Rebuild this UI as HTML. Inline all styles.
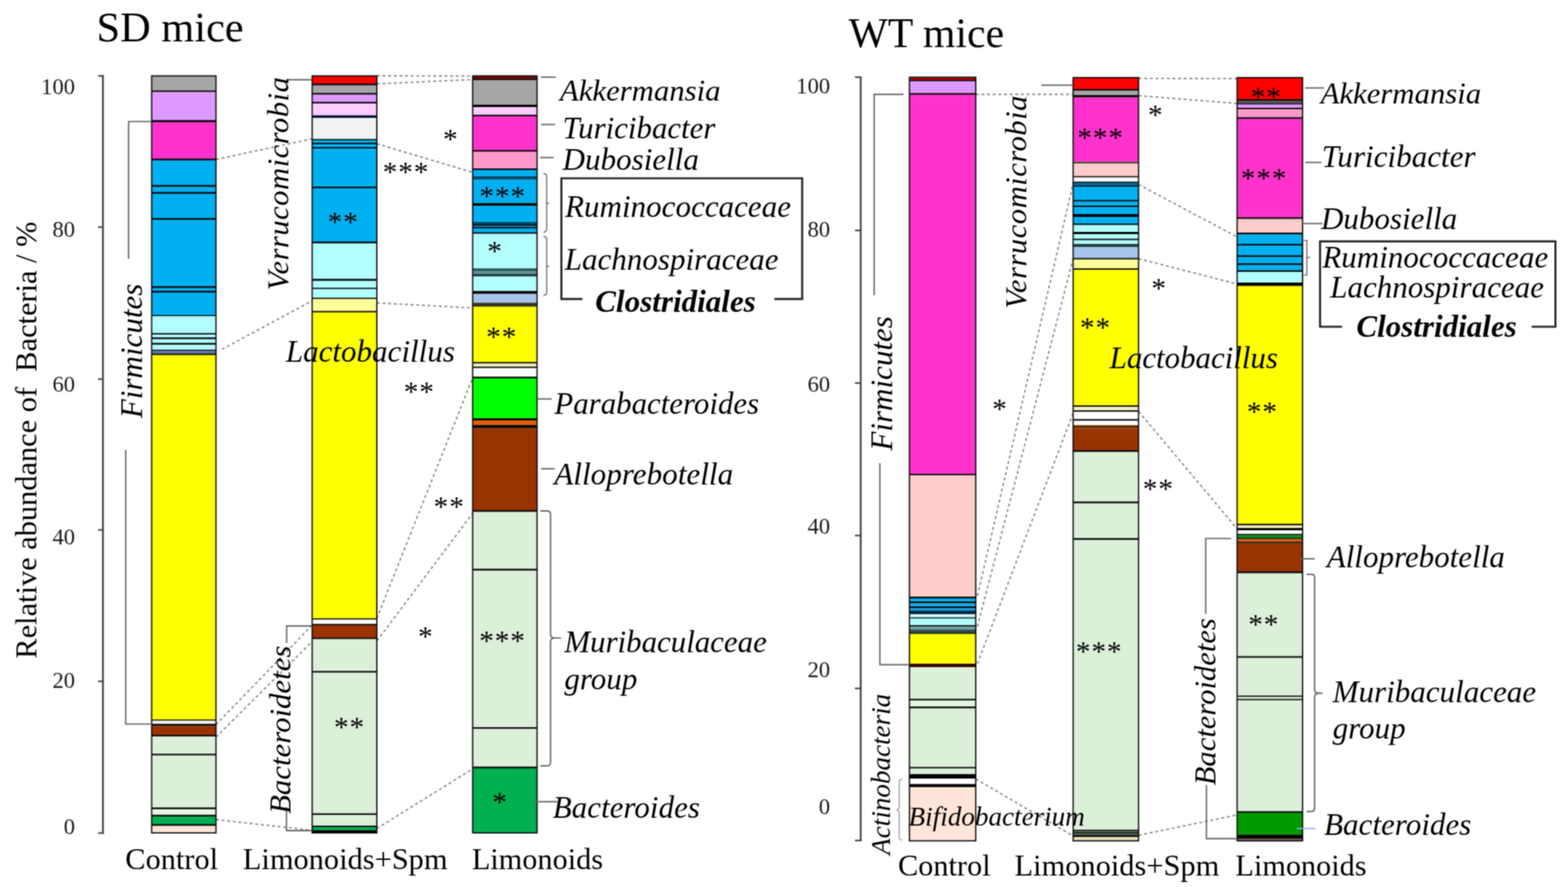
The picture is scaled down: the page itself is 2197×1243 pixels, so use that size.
<!DOCTYPE html>
<html lang="en">
<head>
<meta charset="utf-8">
<title>Relative abundance of Bacteria - SD mice and WT mice</title>
<style>
html,body{margin:0;padding:0;background:#fff;}
body{width:2197px;height:1243px;overflow:hidden;}
svg{display:block;font-family:"Liberation Serif","Times New Roman",serif;}
#fig{width:2197px;height:1243px;}
</style>
</head>
<body>
<div id="fig">
<svg width="2197" height="1243" viewBox="0 0 2197 1243">
<defs><filter id="soft" x="0" y="0" width="2197" height="1243" filterUnits="userSpaceOnUse" color-interpolation-filters="sRGB"><feConvolveMatrix order="3" kernelMatrix="1 2 1 2 4 2 1 2 1" divisor="16" edgeMode="duplicate" preserveAlpha="true"/></filter></defs>
<g filter="url(#soft)">
<rect x="0" y="0" width="2197" height="1243" fill="#ffffff"/>
<text x="135.2" y="58.0" text-anchor="start" style="font-size:59.4px;" fill="#000">SD mice</text>
<text x="1189.0" y="66.3" text-anchor="start" style="font-size:58.4px;" fill="#000">WT mice</text>
<text x="51.4" y="923.0" text-anchor="start" style="font-size:42.6px;" fill="#000" transform="rotate(-90 51.4 923.0)" xml:space="preserve">Relative abundance of  Bacteria / %</text>
<line x1="144.2" y1="105.5" x2="144.2" y2="1168.3" stroke="#404040" stroke-width="2.5"/>
<line x1="137.5" y1="106.4" x2="145.3" y2="106.4" stroke="#404040" stroke-width="2.2"/>
<line x1="137.5" y1="318.3" x2="145.3" y2="318.3" stroke="#404040" stroke-width="2.2"/>
<line x1="137.5" y1="531.3" x2="145.3" y2="531.3" stroke="#404040" stroke-width="2.2"/>
<line x1="137.5" y1="742.6" x2="145.3" y2="742.6" stroke="#404040" stroke-width="2.2"/>
<line x1="137.5" y1="954.7" x2="145.3" y2="954.7" stroke="#404040" stroke-width="2.2"/>
<line x1="137.5" y1="1167.4" x2="145.3" y2="1167.4" stroke="#404040" stroke-width="2.2"/>
<text x="105.2" y="131.5" text-anchor="end" style="font-size:31.8px;" fill="#1a1a1a">100</text>
<text x="105.2" y="331.7" text-anchor="end" style="font-size:31.8px;" fill="#1a1a1a">80</text>
<text x="105.2" y="549.1" text-anchor="end" style="font-size:31.8px;" fill="#1a1a1a">60</text>
<text x="105.2" y="763.2" text-anchor="end" style="font-size:31.8px;" fill="#1a1a1a">40</text>
<text x="105.2" y="964.0" text-anchor="end" style="font-size:31.8px;" fill="#1a1a1a">20</text>
<text x="105.2" y="1169.4" text-anchor="end" style="font-size:31.8px;" fill="#1a1a1a">0</text>
<line x1="1206.0" y1="107.2" x2="1206.0" y2="1179.0" stroke="#404040" stroke-width="2.5"/>
<line x1="1198.0" y1="108.1" x2="1207.1" y2="108.1" stroke="#404040" stroke-width="2.2"/>
<line x1="1198.0" y1="322.9" x2="1207.1" y2="322.9" stroke="#404040" stroke-width="2.2"/>
<line x1="1198.0" y1="536.9" x2="1207.1" y2="536.9" stroke="#404040" stroke-width="2.2"/>
<line x1="1198.0" y1="750.5" x2="1207.1" y2="750.5" stroke="#404040" stroke-width="2.2"/>
<line x1="1198.0" y1="964.7" x2="1207.1" y2="964.7" stroke="#404040" stroke-width="2.2"/>
<line x1="1198.0" y1="1177.8" x2="1207.1" y2="1177.8" stroke="#404040" stroke-width="2.2"/>
<text x="1163.2" y="131.2" text-anchor="end" style="font-size:31.8px;" fill="#1a1a1a">100</text>
<text x="1163.2" y="331.5" text-anchor="end" style="font-size:31.8px;" fill="#1a1a1a">80</text>
<text x="1163.2" y="549.0" text-anchor="end" style="font-size:31.8px;" fill="#1a1a1a">60</text>
<text x="1163.2" y="748.2" text-anchor="end" style="font-size:31.8px;" fill="#1a1a1a">40</text>
<text x="1163.2" y="948.5" text-anchor="end" style="font-size:31.8px;" fill="#1a1a1a">20</text>
<text x="1163.2" y="1140.5" text-anchor="end" style="font-size:31.8px;" fill="#1a1a1a">0</text>
<line x1="302.6" y1="223.5" x2="437.4" y2="194.5" stroke="#858585" stroke-width="1.9" stroke-dasharray="4.2 3.7"/>
<line x1="311.0" y1="489.5" x2="437.4" y2="421.5" stroke="#858585" stroke-width="1.9" stroke-dasharray="4.2 3.7"/>
<line x1="302.6" y1="1015.5" x2="437.4" y2="876.0" stroke="#858585" stroke-width="1.9" stroke-dasharray="4.2 3.7"/>
<line x1="302.6" y1="1033.0" x2="437.4" y2="899.0" stroke="#858585" stroke-width="1.9" stroke-dasharray="4.2 3.7"/>
<line x1="302.6" y1="1148.5" x2="437.4" y2="1163.5" stroke="#858585" stroke-width="1.9" stroke-dasharray="4.2 3.7"/>
<line x1="528.0" y1="106.2" x2="662.3" y2="106.6" stroke="#858585" stroke-width="1.9" stroke-dasharray="4.2 3.7"/>
<line x1="528.0" y1="117.5" x2="662.3" y2="111.5" stroke="#858585" stroke-width="1.9" stroke-dasharray="4.2 3.7"/>
<line x1="528.0" y1="201.5" x2="662.3" y2="241.5" stroke="#858585" stroke-width="1.9" stroke-dasharray="4.2 3.7"/>
<line x1="528.0" y1="424.5" x2="662.3" y2="431.5" stroke="#858585" stroke-width="1.9" stroke-dasharray="4.2 3.7"/>
<line x1="528.0" y1="866.5" x2="662.3" y2="529.5" stroke="#858585" stroke-width="1.9" stroke-dasharray="4.2 3.7"/>
<line x1="528.0" y1="898.3" x2="662.3" y2="719.3" stroke="#858585" stroke-width="1.9" stroke-dasharray="4.2 3.7"/>
<line x1="528.0" y1="1161.0" x2="662.3" y2="1077.5" stroke="#858585" stroke-width="1.9" stroke-dasharray="4.2 3.7"/>
<line x1="1367.2" y1="132.2" x2="1503.6" y2="132.2" stroke="#858585" stroke-width="1.9" stroke-dasharray="4.2 3.7"/>
<line x1="1595.3" y1="109.8" x2="1733.4" y2="110.2" stroke="#858585" stroke-width="1.9" stroke-dasharray="4.2 3.7"/>
<line x1="1595.3" y1="134.0" x2="1733.4" y2="145.0" stroke="#858585" stroke-width="1.9" stroke-dasharray="4.2 3.7"/>
<line x1="1595.3" y1="258.5" x2="1733.4" y2="332.0" stroke="#858585" stroke-width="1.9" stroke-dasharray="4.2 3.7"/>
<line x1="1595.3" y1="362.5" x2="1733.4" y2="398.0" stroke="#858585" stroke-width="1.9" stroke-dasharray="4.2 3.7"/>
<line x1="1595.3" y1="576.5" x2="1733.4" y2="741.0" stroke="#858585" stroke-width="1.9" stroke-dasharray="4.2 3.7"/>
<line x1="1595.3" y1="1170.5" x2="1733.4" y2="1142.0" stroke="#858585" stroke-width="1.9" stroke-dasharray="4.2 3.7"/>
<line x1="1367.2" y1="1091.5" x2="1503.6" y2="1171.5" stroke="#858585" stroke-width="1.9" stroke-dasharray="4.2 3.7"/>
<line x1="1369.5" y1="835.0" x2="1505.9" y2="247.0" stroke="#858585" stroke-width="1.9" stroke-dasharray="4.2 3.7"/>
<line x1="1369.5" y1="878.0" x2="1505.9" y2="354.0" stroke="#858585" stroke-width="1.9" stroke-dasharray="4.2 3.7"/>
<line x1="1369.5" y1="930.0" x2="1505.9" y2="573.0" stroke="#858585" stroke-width="1.9" stroke-dasharray="4.2 3.7"/>
<rect x="212.5" y="106.4" width="90.1" height="21.4" fill="#a6a6a6"/>
<rect x="212.5" y="127.8" width="90.1" height="41.9" fill="#dd99ff"/>
<rect x="212.5" y="169.7" width="90.1" height="53.8" fill="#ff33cc"/>
<rect x="212.5" y="223.5" width="90.1" height="37.0" fill="#00b0f0"/>
<rect x="212.5" y="260.5" width="90.1" height="9.7" fill="#00b0f0"/>
<rect x="212.5" y="270.2" width="90.1" height="36.6" fill="#00b0f0"/>
<rect x="212.5" y="306.8" width="90.1" height="95.4" fill="#00b0f0"/>
<rect x="212.5" y="402.2" width="90.1" height="6.6" fill="#00b0f0"/>
<rect x="212.5" y="408.8" width="90.1" height="33.5" fill="#00b0f0"/>
<rect x="212.5" y="442.3" width="90.1" height="25.5" fill="#b3ffff"/>
<rect x="212.5" y="467.8" width="90.1" height="6.2" fill="#b3ffff"/>
<rect x="212.5" y="474.0" width="90.1" height="7.8" fill="#b3ffff"/>
<rect x="212.5" y="481.8" width="90.1" height="8.8" fill="#b3ffff"/>
<rect x="212.5" y="490.6" width="90.1" height="5.9" fill="#6677aa"/>
<rect x="212.5" y="496.5" width="90.1" height="512.5" fill="#ffff00"/>
<rect x="212.5" y="1009.0" width="90.1" height="5.4" fill="#f2f2f2"/>
<rect x="212.5" y="1014.4" width="90.1" height="3.0" fill="#000000"/>
<rect x="212.5" y="1017.4" width="90.1" height="13.4" fill="#993300"/>
<rect x="212.5" y="1030.8" width="90.1" height="26.5" fill="#dbefd9"/>
<rect x="212.5" y="1057.3" width="90.1" height="75.5" fill="#dbefd9"/>
<rect x="212.5" y="1132.8" width="90.1" height="10.2" fill="#e4f5e2"/>
<rect x="212.5" y="1143.0" width="90.1" height="13.0" fill="#00b050"/>
<rect x="212.5" y="1156.0" width="90.1" height="11.2" fill="#ffe5d9"/>
<line x1="212.5" y1="127.8" x2="302.6" y2="127.8" stroke="#0d0d0d" stroke-width="1.92"/>
<line x1="212.5" y1="169.7" x2="302.6" y2="169.7" stroke="#0d0d0d" stroke-width="3.12"/>
<line x1="212.5" y1="223.5" x2="302.6" y2="223.5" stroke="#0d0d0d" stroke-width="2.4"/>
<line x1="212.5" y1="260.5" x2="302.6" y2="260.5" stroke="#0d0d0d" stroke-width="2.4"/>
<line x1="212.5" y1="270.2" x2="302.6" y2="270.2" stroke="#0d0d0d" stroke-width="2.4"/>
<line x1="212.5" y1="306.8" x2="302.6" y2="306.8" stroke="#0d0d0d" stroke-width="2.4"/>
<line x1="212.5" y1="402.2" x2="302.6" y2="402.2" stroke="#0d0d0d" stroke-width="2.64"/>
<line x1="212.5" y1="408.8" x2="302.6" y2="408.8" stroke="#0d0d0d" stroke-width="2.64"/>
<line x1="212.5" y1="442.3" x2="302.6" y2="442.3" stroke="#0d0d0d" stroke-width="1.44"/>
<line x1="212.5" y1="467.8" x2="302.6" y2="467.8" stroke="#0d0d0d" stroke-width="1.92"/>
<line x1="212.5" y1="474.0" x2="302.6" y2="474.0" stroke="#0d0d0d" stroke-width="2.4"/>
<line x1="212.5" y1="481.8" x2="302.6" y2="481.8" stroke="#0d0d0d" stroke-width="2.4"/>
<line x1="212.5" y1="490.6" x2="302.6" y2="490.6" stroke="#0d0d0d" stroke-width="1.44"/>
<line x1="212.5" y1="496.5" x2="302.6" y2="496.5" stroke="#0d0d0d" stroke-width="1.92"/>
<line x1="212.5" y1="1009.0" x2="302.6" y2="1009.0" stroke="#0d0d0d" stroke-width="1.68"/>
<line x1="212.5" y1="1030.8" x2="302.6" y2="1030.8" stroke="#0d0d0d" stroke-width="2.16"/>
<line x1="212.5" y1="1057.3" x2="302.6" y2="1057.3" stroke="#0d0d0d" stroke-width="2.16"/>
<line x1="212.5" y1="1132.8" x2="302.6" y2="1132.8" stroke="#0d0d0d" stroke-width="2.4"/>
<line x1="212.5" y1="1143.0" x2="302.6" y2="1143.0" stroke="#0d0d0d" stroke-width="2.64"/>
<line x1="212.5" y1="1156.0" x2="302.6" y2="1156.0" stroke="#0d0d0d" stroke-width="2.64"/>
<rect x="212.5" y="106.4" width="90.1" height="1060.8" fill="none" stroke="#0d0d0d" stroke-width="1.8"/>
<rect x="437.4" y="106.4" width="90.6" height="11.9" fill="#ff0000"/>
<rect x="437.4" y="118.3" width="90.6" height="13.0" fill="#a6a6a6"/>
<rect x="437.4" y="131.3" width="90.6" height="12.5" fill="#dd99ff"/>
<rect x="437.4" y="143.8" width="90.6" height="17.8" fill="#ffccff"/>
<rect x="437.4" y="161.6" width="90.6" height="3.8" fill="#001133"/>
<rect x="437.4" y="165.4" width="90.6" height="30.3" fill="#f2f2f2"/>
<rect x="437.4" y="195.7" width="90.6" height="5.3" fill="#00b0f0"/>
<rect x="437.4" y="201.0" width="90.6" height="6.0" fill="#00b0f0"/>
<rect x="437.4" y="207.0" width="90.6" height="55.6" fill="#00b0f0"/>
<rect x="437.4" y="262.6" width="90.6" height="77.2" fill="#00b0f0"/>
<rect x="437.4" y="339.8" width="90.6" height="52.3" fill="#b3ffff"/>
<rect x="437.4" y="392.1" width="90.6" height="12.0" fill="#b3ffff"/>
<rect x="437.4" y="404.1" width="90.6" height="14.0" fill="#b3ffff"/>
<rect x="437.4" y="418.1" width="90.6" height="18.6" fill="#ffff99"/>
<rect x="437.4" y="436.7" width="90.6" height="430.7" fill="#ffff00"/>
<rect x="437.4" y="867.4" width="90.6" height="7.9" fill="#ffffff"/>
<rect x="437.4" y="875.3" width="90.6" height="19.2" fill="#993300"/>
<rect x="437.4" y="894.5" width="90.6" height="46.9" fill="#dbefd9"/>
<rect x="437.4" y="941.4" width="90.6" height="199.5" fill="#dbefd9"/>
<rect x="437.4" y="1140.9" width="90.6" height="17.1" fill="#dbefd9"/>
<rect x="437.4" y="1158.0" width="90.6" height="5.3" fill="#00b050"/>
<rect x="437.4" y="1163.3" width="90.6" height="3.9" fill="#000000"/>
<line x1="437.4" y1="118.3" x2="528.0" y2="118.3" stroke="#0d0d0d" stroke-width="2.64"/>
<line x1="437.4" y1="131.3" x2="528.0" y2="131.3" stroke="#0d0d0d" stroke-width="2.16"/>
<line x1="437.4" y1="143.8" x2="528.0" y2="143.8" stroke="#0d0d0d" stroke-width="2.16"/>
<line x1="437.4" y1="195.7" x2="528.0" y2="195.7" stroke="#0d0d0d" stroke-width="1.68"/>
<line x1="437.4" y1="201.0" x2="528.0" y2="201.0" stroke="#0d0d0d" stroke-width="1.92"/>
<line x1="437.4" y1="207.0" x2="528.0" y2="207.0" stroke="#0d0d0d" stroke-width="2.16"/>
<line x1="437.4" y1="262.6" x2="528.0" y2="262.6" stroke="#0d0d0d" stroke-width="2.4"/>
<line x1="437.4" y1="339.8" x2="528.0" y2="339.8" stroke="#0d0d0d" stroke-width="2.4"/>
<line x1="437.4" y1="392.1" x2="528.0" y2="392.1" stroke="#0d0d0d" stroke-width="2.88"/>
<line x1="437.4" y1="404.1" x2="528.0" y2="404.1" stroke="#0d0d0d" stroke-width="1.92"/>
<line x1="437.4" y1="418.1" x2="528.0" y2="418.1" stroke="#0d0d0d" stroke-width="1.68"/>
<line x1="437.4" y1="436.7" x2="528.0" y2="436.7" stroke="#0d0d0d" stroke-width="1.92"/>
<line x1="437.4" y1="867.4" x2="528.0" y2="867.4" stroke="#0d0d0d" stroke-width="1.92"/>
<line x1="437.4" y1="875.3" x2="528.0" y2="875.3" stroke="#0d0d0d" stroke-width="1.92"/>
<line x1="437.4" y1="894.5" x2="528.0" y2="894.5" stroke="#0d0d0d" stroke-width="2.16"/>
<line x1="437.4" y1="941.4" x2="528.0" y2="941.4" stroke="#0d0d0d" stroke-width="2.16"/>
<line x1="437.4" y1="1140.9" x2="528.0" y2="1140.9" stroke="#0d0d0d" stroke-width="2.16"/>
<line x1="437.4" y1="1158.0" x2="528.0" y2="1158.0" stroke="#0d0d0d" stroke-width="2.16"/>
<rect x="437.4" y="106.4" width="90.6" height="1060.8" fill="none" stroke="#0d0d0d" stroke-width="1.8"/>
<rect x="662.3" y="106.4" width="90.2" height="4.8" fill="#8b0000"/>
<rect x="662.3" y="111.2" width="90.2" height="35.5" fill="#a6a6a6"/>
<rect x="662.3" y="146.7" width="90.2" height="3.5" fill="#000000"/>
<rect x="662.3" y="150.2" width="90.2" height="11.6" fill="#ffccff"/>
<rect x="662.3" y="161.8" width="90.2" height="49.5" fill="#ff33cc"/>
<rect x="662.3" y="211.3" width="90.2" height="25.9" fill="#ff99cc"/>
<rect x="662.3" y="237.2" width="90.2" height="9.8" fill="#00b0f0"/>
<rect x="662.3" y="247.0" width="90.2" height="4.8" fill="#004a66"/>
<rect x="662.3" y="251.8" width="90.2" height="32.8" fill="#00b0f0"/>
<rect x="662.3" y="284.6" width="90.2" height="4.0" fill="#000000"/>
<rect x="662.3" y="288.6" width="90.2" height="22.4" fill="#00b0f0"/>
<rect x="662.3" y="311.0" width="90.2" height="4.5" fill="#004a66"/>
<rect x="662.3" y="315.5" width="90.2" height="3.5" fill="#00b0f0"/>
<rect x="662.3" y="319.0" width="90.2" height="7.5" fill="#00b0f0"/>
<rect x="662.3" y="326.5" width="90.2" height="49.5" fill="#b3ffff"/>
<rect x="662.3" y="376.0" width="90.2" height="4.5" fill="#2f5f5f"/>
<rect x="662.3" y="380.5" width="90.2" height="3.5" fill="#5f8f8f"/>
<rect x="662.3" y="384.0" width="90.2" height="3.6" fill="#1f3f3f"/>
<rect x="662.3" y="387.6" width="90.2" height="20.2" fill="#b3ffff"/>
<rect x="662.3" y="407.8" width="90.2" height="4.0" fill="#000000"/>
<rect x="662.3" y="411.8" width="90.2" height="12.5" fill="#a9c4eb"/>
<rect x="662.3" y="424.3" width="90.2" height="5.5" fill="#333322"/>
<rect x="662.3" y="429.8" width="90.2" height="78.5" fill="#ffff00"/>
<rect x="662.3" y="508.3" width="90.2" height="6.5" fill="#f2edc0"/>
<rect x="662.3" y="514.8" width="90.2" height="14.2" fill="#ffffff"/>
<rect x="662.3" y="529.0" width="90.2" height="57.2" fill="#00ff00"/>
<rect x="662.3" y="586.2" width="90.2" height="2.8" fill="#000000"/>
<rect x="662.3" y="589.0" width="90.2" height="6.5" fill="#e65c00"/>
<rect x="662.3" y="595.5" width="90.2" height="4.3" fill="#000000"/>
<rect x="662.3" y="599.8" width="90.2" height="116.2" fill="#993300"/>
<rect x="662.3" y="716.0" width="90.2" height="82.3" fill="#dbefd9"/>
<rect x="662.3" y="798.3" width="90.2" height="221.9" fill="#dbefd9"/>
<rect x="662.3" y="1020.2" width="90.2" height="55.3" fill="#dbefd9"/>
<rect x="662.3" y="1075.5" width="90.2" height="91.7" fill="#00b050"/>
<line x1="662.3" y1="111.2" x2="752.5" y2="111.2" stroke="#0d0d0d" stroke-width="1.92"/>
<line x1="662.3" y1="161.8" x2="752.5" y2="161.8" stroke="#0d0d0d" stroke-width="2.16"/>
<line x1="662.3" y1="211.3" x2="752.5" y2="211.3" stroke="#0d0d0d" stroke-width="2.16"/>
<line x1="662.3" y1="237.2" x2="752.5" y2="237.2" stroke="#0d0d0d" stroke-width="2.16"/>
<line x1="662.3" y1="315.5" x2="752.5" y2="315.5" stroke="#0d0d0d" stroke-width="1.92"/>
<line x1="662.3" y1="319.0" x2="752.5" y2="319.0" stroke="#0d0d0d" stroke-width="1.92"/>
<line x1="662.3" y1="326.5" x2="752.5" y2="326.5" stroke="#0d0d0d" stroke-width="2.16"/>
<line x1="662.3" y1="508.3" x2="752.5" y2="508.3" stroke="#0d0d0d" stroke-width="1.92"/>
<line x1="662.3" y1="514.8" x2="752.5" y2="514.8" stroke="#0d0d0d" stroke-width="1.92"/>
<line x1="662.3" y1="529.0" x2="752.5" y2="529.0" stroke="#0d0d0d" stroke-width="2.4"/>
<line x1="662.3" y1="716.0" x2="752.5" y2="716.0" stroke="#0d0d0d" stroke-width="2.4"/>
<line x1="662.3" y1="798.3" x2="752.5" y2="798.3" stroke="#0d0d0d" stroke-width="2.4"/>
<line x1="662.3" y1="1020.2" x2="752.5" y2="1020.2" stroke="#0d0d0d" stroke-width="2.16"/>
<line x1="662.3" y1="1075.5" x2="752.5" y2="1075.5" stroke="#0d0d0d" stroke-width="2.4"/>
<rect x="662.3" y="106.4" width="90.2" height="1060.8" fill="none" stroke="#0d0d0d" stroke-width="1.8"/>
<rect x="1274.3" y="108.3" width="92.9" height="4.5" fill="#cc0000"/>
<rect x="1274.3" y="112.8" width="92.9" height="18.8" fill="#dd99ff"/>
<rect x="1274.3" y="131.6" width="92.9" height="533.4" fill="#ff33cc"/>
<rect x="1274.3" y="665.0" width="92.9" height="172.3" fill="#ffcccc"/>
<rect x="1274.3" y="837.3" width="92.9" height="5.5" fill="#00b0f0"/>
<rect x="1274.3" y="842.8" width="92.9" height="2.7" fill="#000000"/>
<rect x="1274.3" y="845.5" width="92.9" height="4.2" fill="#00b0f0"/>
<rect x="1274.3" y="849.7" width="92.9" height="2.6" fill="#000000"/>
<rect x="1274.3" y="852.3" width="92.9" height="3.5" fill="#009fdc"/>
<rect x="1274.3" y="855.8" width="92.9" height="5.0" fill="#002244"/>
<rect x="1274.3" y="860.8" width="92.9" height="4.0" fill="#d4ffff"/>
<rect x="1274.3" y="864.8" width="92.9" height="2.4" fill="#3a5a5a"/>
<rect x="1274.3" y="867.2" width="92.9" height="9.6" fill="#b3ffff"/>
<rect x="1274.3" y="876.8" width="92.9" height="5.4" fill="#74a3a3"/>
<rect x="1274.3" y="882.2" width="92.9" height="5.4" fill="#2f4a52"/>
<rect x="1274.3" y="887.6" width="92.9" height="42.5" fill="#ffff00"/>
<rect x="1274.3" y="930.1" width="92.9" height="4.8" fill="#330000"/>
<rect x="1274.3" y="934.9" width="92.9" height="45.5" fill="#dbefd9"/>
<rect x="1274.3" y="980.4" width="92.9" height="10.9" fill="#e4f5e2"/>
<rect x="1274.3" y="991.3" width="92.9" height="84.5" fill="#dbefd9"/>
<rect x="1274.3" y="1075.8" width="92.9" height="9.0" fill="#dbefd9"/>
<rect x="1274.3" y="1084.8" width="92.9" height="6.4" fill="#000000"/>
<rect x="1274.3" y="1091.2" width="92.9" height="7.5" fill="#ffffff"/>
<rect x="1274.3" y="1098.7" width="92.9" height="4.4" fill="#000000"/>
<rect x="1274.3" y="1103.1" width="92.9" height="75.2" fill="#ffe5d9"/>
<line x1="1274.3" y1="112.8" x2="1367.2" y2="112.8" stroke="#0d0d0d" stroke-width="1.92"/>
<line x1="1274.3" y1="131.6" x2="1367.2" y2="131.6" stroke="#0d0d0d" stroke-width="2.16"/>
<line x1="1274.3" y1="665.0" x2="1367.2" y2="665.0" stroke="#0d0d0d" stroke-width="2.16"/>
<line x1="1274.3" y1="837.3" x2="1367.2" y2="837.3" stroke="#0d0d0d" stroke-width="2.4"/>
<line x1="1274.3" y1="876.8" x2="1367.2" y2="876.8" stroke="#0d0d0d" stroke-width="1.68"/>
<line x1="1274.3" y1="887.6" x2="1367.2" y2="887.6" stroke="#0d0d0d" stroke-width="1.44"/>
<line x1="1274.3" y1="980.4" x2="1367.2" y2="980.4" stroke="#0d0d0d" stroke-width="2.4"/>
<line x1="1274.3" y1="991.3" x2="1367.2" y2="991.3" stroke="#0d0d0d" stroke-width="2.4"/>
<line x1="1274.3" y1="1075.8" x2="1367.2" y2="1075.8" stroke="#0d0d0d" stroke-width="1.92"/>
<rect x="1274.3" y="108.3" width="92.9" height="1070.0" fill="none" stroke="#0d0d0d" stroke-width="1.8"/>
<rect x="1503.6" y="108.8" width="91.7" height="17.0" fill="#ff0000"/>
<rect x="1503.6" y="125.8" width="91.7" height="7.4" fill="#a6a6a6"/>
<rect x="1503.6" y="133.2" width="91.7" height="3.4" fill="#000000"/>
<rect x="1503.6" y="136.6" width="91.7" height="90.2" fill="#ff33cc"/>
<rect x="1503.6" y="226.8" width="91.7" height="2.6" fill="#3c4a30"/>
<rect x="1503.6" y="229.4" width="91.7" height="18.2" fill="#ffcccc"/>
<rect x="1503.6" y="247.6" width="91.7" height="7.6" fill="#ffffff"/>
<rect x="1503.6" y="255.2" width="91.7" height="5.6" fill="#006699"/>
<rect x="1503.6" y="260.8" width="91.7" height="20.4" fill="#00b0f0"/>
<rect x="1503.6" y="281.2" width="91.7" height="7.8" fill="#00b0f0"/>
<rect x="1503.6" y="289.0" width="91.7" height="11.0" fill="#00b0f0"/>
<rect x="1503.6" y="300.0" width="91.7" height="4.0" fill="#000000"/>
<rect x="1503.6" y="304.0" width="91.7" height="10.3" fill="#00b0f0"/>
<rect x="1503.6" y="314.3" width="91.7" height="10.7" fill="#b3ffff"/>
<rect x="1503.6" y="325.0" width="91.7" height="3.2" fill="#000000"/>
<rect x="1503.6" y="328.2" width="91.7" height="7.3" fill="#b3ffff"/>
<rect x="1503.6" y="335.5" width="91.7" height="6.3" fill="#b3ffff"/>
<rect x="1503.6" y="341.8" width="91.7" height="4.5" fill="#1f3f3f"/>
<rect x="1503.6" y="346.3" width="91.7" height="16.2" fill="#a9c4eb"/>
<rect x="1503.6" y="362.5" width="91.7" height="14.5" fill="#ffff99"/>
<rect x="1503.6" y="377.0" width="91.7" height="192.0" fill="#ffff00"/>
<rect x="1503.6" y="569.0" width="91.7" height="7.0" fill="#f2edc0"/>
<rect x="1503.6" y="576.0" width="91.7" height="12.3" fill="#ffffff"/>
<rect x="1503.6" y="588.3" width="91.7" height="7.5" fill="#ffffff"/>
<rect x="1503.6" y="595.8" width="91.7" height="4.7" fill="#663300"/>
<rect x="1503.6" y="600.5" width="91.7" height="31.5" fill="#993300"/>
<rect x="1503.6" y="632.0" width="91.7" height="72.0" fill="#dbefd9"/>
<rect x="1503.6" y="704.0" width="91.7" height="51.3" fill="#dbefd9"/>
<rect x="1503.6" y="755.3" width="91.7" height="408.3" fill="#dbefd9"/>
<rect x="1503.6" y="1163.6" width="91.7" height="3.4" fill="#6b7f6b"/>
<rect x="1503.6" y="1167.0" width="91.7" height="3.2" fill="#566b56"/>
<rect x="1503.6" y="1170.2" width="91.7" height="2.7" fill="#000000"/>
<rect x="1503.6" y="1172.9" width="91.7" height="5.4" fill="#ebe3b8"/>
<line x1="1503.6" y1="125.8" x2="1595.3" y2="125.8" stroke="#0d0d0d" stroke-width="2.16"/>
<line x1="1503.6" y1="247.6" x2="1595.3" y2="247.6" stroke="#0d0d0d" stroke-width="1.92"/>
<line x1="1503.6" y1="255.2" x2="1595.3" y2="255.2" stroke="#0d0d0d" stroke-width="1.44"/>
<line x1="1503.6" y1="260.8" x2="1595.3" y2="260.8" stroke="#0d0d0d" stroke-width="1.44"/>
<line x1="1503.6" y1="281.2" x2="1595.3" y2="281.2" stroke="#0d0d0d" stroke-width="1.92"/>
<line x1="1503.6" y1="289.0" x2="1595.3" y2="289.0" stroke="#0d0d0d" stroke-width="2.16"/>
<line x1="1503.6" y1="314.3" x2="1595.3" y2="314.3" stroke="#0d0d0d" stroke-width="1.92"/>
<line x1="1503.6" y1="335.5" x2="1595.3" y2="335.5" stroke="#0d0d0d" stroke-width="1.92"/>
<line x1="1503.6" y1="362.5" x2="1595.3" y2="362.5" stroke="#0d0d0d" stroke-width="1.92"/>
<line x1="1503.6" y1="377.0" x2="1595.3" y2="377.0" stroke="#0d0d0d" stroke-width="1.92"/>
<line x1="1503.6" y1="569.0" x2="1595.3" y2="569.0" stroke="#0d0d0d" stroke-width="2.16"/>
<line x1="1503.6" y1="576.0" x2="1595.3" y2="576.0" stroke="#0d0d0d" stroke-width="1.92"/>
<line x1="1503.6" y1="588.3" x2="1595.3" y2="588.3" stroke="#0d0d0d" stroke-width="2.16"/>
<line x1="1503.6" y1="632.0" x2="1595.3" y2="632.0" stroke="#0d0d0d" stroke-width="2.4"/>
<line x1="1503.6" y1="704.0" x2="1595.3" y2="704.0" stroke="#0d0d0d" stroke-width="2.4"/>
<line x1="1503.6" y1="755.3" x2="1595.3" y2="755.3" stroke="#0d0d0d" stroke-width="2.4"/>
<line x1="1503.6" y1="1163.6" x2="1595.3" y2="1163.6" stroke="#0d0d0d" stroke-width="1.68"/>
<line x1="1503.6" y1="1167.0" x2="1595.3" y2="1167.0" stroke="#0d0d0d" stroke-width="1.44"/>
<rect x="1503.6" y="108.8" width="91.7" height="1069.5" fill="none" stroke="#0d0d0d" stroke-width="1.8"/>
<rect x="1733.4" y="108.8" width="91.7" height="31.2" fill="#ff0000"/>
<rect x="1733.4" y="140.0" width="91.7" height="5.6" fill="#555555"/>
<rect x="1733.4" y="145.6" width="91.7" height="6.4" fill="#dd99ff"/>
<rect x="1733.4" y="152.0" width="91.7" height="13.4" fill="#ff99cc"/>
<rect x="1733.4" y="165.4" width="91.7" height="140.2" fill="#ff33cc"/>
<rect x="1733.4" y="305.6" width="91.7" height="20.4" fill="#ffcccc"/>
<rect x="1733.4" y="326.0" width="91.7" height="2.6" fill="#000000"/>
<rect x="1733.4" y="328.6" width="91.7" height="14.2" fill="#00b0f0"/>
<rect x="1733.4" y="342.8" width="91.7" height="16.0" fill="#00b0f0"/>
<rect x="1733.4" y="358.8" width="91.7" height="11.4" fill="#00b0f0"/>
<rect x="1733.4" y="370.2" width="91.7" height="9.6" fill="#00b0f0"/>
<rect x="1733.4" y="379.8" width="91.7" height="16.2" fill="#b3ffff"/>
<rect x="1733.4" y="396.0" width="91.7" height="4.8" fill="#000000"/>
<rect x="1733.4" y="400.8" width="91.7" height="334.2" fill="#ffff00"/>
<rect x="1733.4" y="735.0" width="91.7" height="5.0" fill="#ece4b8"/>
<rect x="1733.4" y="740.0" width="91.7" height="3.3" fill="#000000"/>
<rect x="1733.4" y="743.3" width="91.7" height="4.7" fill="#ffffff"/>
<rect x="1733.4" y="748.0" width="91.7" height="1.8" fill="#1c1c1c"/>
<rect x="1733.4" y="749.8" width="91.7" height="4.1" fill="#008c1e"/>
<rect x="1733.4" y="753.9" width="91.7" height="1.5" fill="#000000"/>
<rect x="1733.4" y="755.4" width="91.7" height="4.0" fill="#d95300"/>
<rect x="1733.4" y="759.4" width="91.7" height="2.1" fill="#000000"/>
<rect x="1733.4" y="761.5" width="91.7" height="40.5" fill="#993300"/>
<rect x="1733.4" y="802.0" width="91.7" height="118.7" fill="#dbefd9"/>
<rect x="1733.4" y="920.7" width="91.7" height="54.9" fill="#dbefd9"/>
<rect x="1733.4" y="975.6" width="91.7" height="4.8" fill="#dbefd9"/>
<rect x="1733.4" y="980.4" width="91.7" height="157.4" fill="#dbefd9"/>
<rect x="1733.4" y="1137.8" width="91.7" height="31.8" fill="#009900"/>
<rect x="1733.4" y="1169.6" width="91.7" height="6.0" fill="#000000"/>
<rect x="1733.4" y="1175.6" width="91.7" height="2.7" fill="#8b5a4a"/>
<line x1="1733.4" y1="140.0" x2="1825.1" y2="140.0" stroke="#0d0d0d" stroke-width="1.92"/>
<line x1="1733.4" y1="145.6" x2="1825.1" y2="145.6" stroke="#0d0d0d" stroke-width="1.44"/>
<line x1="1733.4" y1="152.0" x2="1825.1" y2="152.0" stroke="#0d0d0d" stroke-width="2.16"/>
<line x1="1733.4" y1="165.4" x2="1825.1" y2="165.4" stroke="#0d0d0d" stroke-width="2.16"/>
<line x1="1733.4" y1="305.6" x2="1825.1" y2="305.6" stroke="#0d0d0d" stroke-width="2.16"/>
<line x1="1733.4" y1="342.8" x2="1825.1" y2="342.8" stroke="#0d0d0d" stroke-width="2.16"/>
<line x1="1733.4" y1="358.8" x2="1825.1" y2="358.8" stroke="#0d0d0d" stroke-width="2.16"/>
<line x1="1733.4" y1="370.2" x2="1825.1" y2="370.2" stroke="#0d0d0d" stroke-width="2.16"/>
<line x1="1733.4" y1="379.8" x2="1825.1" y2="379.8" stroke="#0d0d0d" stroke-width="2.16"/>
<line x1="1733.4" y1="735.0" x2="1825.1" y2="735.0" stroke="#0d0d0d" stroke-width="1.92"/>
<line x1="1733.4" y1="802.0" x2="1825.1" y2="802.0" stroke="#0d0d0d" stroke-width="2.4"/>
<line x1="1733.4" y1="920.7" x2="1825.1" y2="920.7" stroke="#0d0d0d" stroke-width="2.16"/>
<line x1="1733.4" y1="975.6" x2="1825.1" y2="975.6" stroke="#0d0d0d" stroke-width="1.92"/>
<line x1="1733.4" y1="980.4" x2="1825.1" y2="980.4" stroke="#0d0d0d" stroke-width="1.92"/>
<line x1="1733.4" y1="1137.8" x2="1825.1" y2="1137.8" stroke="#0d0d0d" stroke-width="2.16"/>
<rect x="1733.4" y="108.8" width="91.7" height="1069.5" fill="none" stroke="#0d0d0d" stroke-width="1.8"/>
<path d="M212.5 170.4 H180.2 V362.7" stroke="#626262" stroke-width="1.9" fill="none"/>
<path d="M176.2 630.5 V1014.6 H212.5" stroke="#626262" stroke-width="1.9" fill="none"/>
<line x1="401.0" y1="111.8" x2="437.4" y2="111.8" stroke="#626262" stroke-width="1.9"/>
<path d="M437.4 877.2 H401.6 V901" stroke="#626262" stroke-width="1.9" fill="none"/>
<path d="M401.4 1131 V1164 H437.4" stroke="#626262" stroke-width="1.9" fill="none"/>
<line x1="758.0" y1="108.1" x2="778.6" y2="108.1" stroke="#626262" stroke-width="1.9"/>
<line x1="758.0" y1="174.5" x2="778.0" y2="174.5" stroke="#626262" stroke-width="1.9"/>
<line x1="757.0" y1="220.8" x2="775.7" y2="220.8" stroke="#626262" stroke-width="1.9"/>
<line x1="753.0" y1="559.1" x2="773.0" y2="559.1" stroke="#626262" stroke-width="1.9"/>
<line x1="758.0" y1="656.9" x2="777.0" y2="656.9" stroke="#626262" stroke-width="1.9"/>
<line x1="747.7" y1="1123.5" x2="781.0" y2="1123.5" stroke="#626262" stroke-width="1.9"/>
<path d="M761.5 243.3 Q766.0 243.3 766.0 247.8 V320.8 Q766.0 325.3 761.5 325.3 M766.0 284.8 H769.4" stroke="#626262" stroke-width="1.5" fill="none"/>
<path d="M761.5 331.4 Q766.0 331.4 766.0 335.9 V409.3 Q766.0 413.8 761.5 413.8 M766.0 373.2 H769.4" stroke="#626262" stroke-width="1.5" fill="none"/>
<path d="M757.0 716.0 H766.4 Q771.4 716.0 771.4 721.0 V889.1 Q771.4 894.1 777.4 894.1 H786.0 M777.4 894.1 Q771.4 894.1 771.4 899.1 V1068.3 Q771.4 1073.3 766.4 1073.3 H757.0" stroke="#626262" stroke-width="1.9" fill="none"/>
<path d="M816 419 H786.6 V249.9 H1124 V419 H1085" stroke="#262626" stroke-width="2.9" fill="none"/>
<path d="M1266 132.2 H1224.8 V413.8" stroke="#626262" stroke-width="1.9" fill="none"/>
<path d="M1232.8 649 V931.5 H1274.3" stroke="#626262" stroke-width="1.9" fill="none"/>
<line x1="1459.0" y1="119.4" x2="1503.6" y2="119.4" stroke="#555" stroke-width="1.6"/>
<path d="M1264 1092.2 Q1259.8 1092.2 1259.8 1096.5 V1132.4 L1257 1134.9 L1259.8 1137.4 V1173 Q1259.8 1177.1 1264 1177.1" stroke="#9a9a9a" stroke-width="1.5" fill="none"/>
<path d="M1725 754.6 H1689.4 V860.3" stroke="#626262" stroke-width="1.9" fill="none"/>
<path d="M1690.4 1099.9 V1175.2 H1733.4" stroke="#626262" stroke-width="1.9" fill="none"/>
<line x1="1828.7" y1="123.3" x2="1855.3" y2="123.3" stroke="#626262" stroke-width="1.9"/>
<line x1="1828.7" y1="227.6" x2="1851.6" y2="227.6" stroke="#626262" stroke-width="1.9"/>
<line x1="1825.0" y1="313.3" x2="1852.9" y2="313.3" stroke="#626262" stroke-width="1.9"/>
<line x1="1821.5" y1="783.1" x2="1842.0" y2="783.1" stroke="#626262" stroke-width="1.9"/>
<line x1="1816.6" y1="1161.0" x2="1843.2" y2="1161.0" stroke="#8fb4e3" stroke-width="1.8"/>
<path d="M1826.7 337 H1831.1 V385.4 H1826.7 M1831.1 360.7 H1835.5" stroke="#626262" stroke-width="1.5" fill="none"/>
<path d="M1831.0 804.8 H1837.0 Q1842.0 804.8 1842.0 809.8 V966.5 Q1842.0 971.5 1848.0 971.5 H1853.0 M1848.0 971.5 Q1842.0 971.5 1842.0 976.5 V1132.3 Q1842.0 1137.3 1837.0 1137.3 H1831.0" stroke="#626262" stroke-width="1.9" fill="none"/>
<path d="M1880.6 457.9 H1849.6 V338.3 H2179.4 V457.9 H2146" stroke="#262626" stroke-width="2.9" fill="none"/>
<text x="199.0" y="586.0" text-anchor="start" style="font-size:43.5px;font-style:italic;" fill="#000" transform="rotate(-90 199.0 586.0)">Firmicutes</text>
<text x="404.3" y="407.0" text-anchor="start" style="font-size:43px;font-style:italic;" fill="#000" transform="rotate(-90 404.3 407.0)" letter-spacing="0.65">Verrucomicrobia</text>
<text x="406.9" y="1140.6" text-anchor="start" style="font-size:43.2px;font-style:italic;" fill="#000" transform="rotate(-90 406.9 1140.6)">Bacteroidetes</text>
<text x="400.5" y="506.7" text-anchor="start" style="font-size:43.5px;font-style:italic;" fill="#000">Lactobacillus</text>
<text x="784.6" y="140.7" text-anchor="start" style="font-size:43.1px;font-style:italic;" fill="#000">Akkermansia</text>
<text x="788.3" y="193.8" text-anchor="start" style="font-size:43.3px;font-style:italic;" fill="#000">Turicibacter</text>
<text x="788.3" y="237.7" text-anchor="start" style="font-size:43.5px;font-style:italic;" fill="#000">Dubosiella</text>
<text x="791.8" y="303.6" text-anchor="start" style="font-size:43.5px;font-style:italic;" fill="#000">Ruminococcaceae</text>
<text x="791.3" y="378.4" text-anchor="start" style="font-size:43.5px;font-style:italic;" fill="#000">Lachnospiraceae</text>
<text x="834.1" y="437.4" text-anchor="start" style="font-size:43.5px;font-style:italic;font-weight:bold;" fill="#000">Clostridiales</text>
<text x="776.7" y="580.3" text-anchor="start" style="font-size:43.3px;font-style:italic;" fill="#000">Parabacteroides</text>
<text x="776.6" y="679.0" text-anchor="start" style="font-size:43.7px;font-style:italic;" fill="#000">Alloprebotella</text>
<text x="790.7" y="913.8" text-anchor="start" style="font-size:43.3px;font-style:italic;" fill="#000">Muribaculaceae</text>
<text x="790.7" y="965.9" text-anchor="start" style="font-size:43.5px;font-style:italic;" fill="#000">group</text>
<text x="774.5" y="1145.8" text-anchor="start" style="font-size:43.5px;font-style:italic;" fill="#000">Bacteroides</text>
<text x="175.6" y="1218.2" text-anchor="start" style="font-size:42.5px;" fill="#000">Control</text>
<text x="340.3" y="1218.2" text-anchor="start" style="font-size:42.6px;" fill="#000">Limonoids+Spm</text>
<text x="661.2" y="1218.2" text-anchor="start" style="font-size:42.4px;" fill="#000">Limonoids</text>
<text x="1250.2" y="631.5" text-anchor="start" style="font-size:43.5px;font-style:italic;" fill="#000" transform="rotate(-90 1250.2 631.5)">Firmicutes</text>
<text x="1438.2" y="432.8" text-anchor="start" style="font-size:43px;font-style:italic;" fill="#000" transform="rotate(-90 1438.2 432.8)" letter-spacing="0.65">Verrucomicrobia</text>
<text x="1246.5" y="1198.0" text-anchor="start" style="font-size:38px;font-style:italic;" fill="#000" transform="rotate(-90 1246.5 1198.0)">Actinobacteria</text>
<text x="1702.7" y="1100.5" text-anchor="start" style="font-size:42.9px;font-style:italic;" fill="#000" transform="rotate(-90 1702.7 1100.5)">Bacteroidetes</text>
<text x="1273.1" y="1156.6" text-anchor="start" style="font-size:38px;font-style:italic;" fill="#000">Bifidobacterium</text>
<text x="1554.8" y="516.4" text-anchor="start" style="font-size:43.3px;font-style:italic;" fill="#000">Lactobacillus</text>
<text x="1850.4" y="145.0" text-anchor="start" style="font-size:43.1px;font-style:italic;" fill="#000">Akkermansia</text>
<text x="1852.0" y="234.1" text-anchor="start" style="font-size:43.6px;font-style:italic;" fill="#000">Turicibacter</text>
<text x="1850.9" y="320.5" text-anchor="start" style="font-size:43.5px;font-style:italic;" fill="#000">Dubosiella</text>
<text x="1852.8" y="374.8" text-anchor="start" style="font-size:43.5px;font-style:italic;" fill="#000">Ruminococcaceae</text>
<text x="1863.7" y="417.4" text-anchor="start" style="font-size:43.5px;font-style:italic;" fill="#000">Lachnospiraceae</text>
<text x="1900.4" y="472.2" text-anchor="start" style="font-size:43.5px;font-style:italic;font-weight:bold;" fill="#000">Clostridiales</text>
<text x="1858.9" y="795.2" text-anchor="start" style="font-size:43.5px;font-style:italic;" fill="#000">Alloprebotella</text>
<text x="1867.3" y="984.0" text-anchor="start" style="font-size:43.5px;font-style:italic;" fill="#000">Muribaculaceae</text>
<text x="1867.3" y="1034.7" text-anchor="start" style="font-size:43.5px;font-style:italic;" fill="#000">group</text>
<text x="1855.3" y="1169.9" text-anchor="start" style="font-size:43.5px;font-style:italic;" fill="#000">Bacteroides</text>
<text x="1258.2" y="1226.6" text-anchor="start" style="font-size:42.5px;" fill="#000">Control</text>
<text x="1421.6" y="1226.6" text-anchor="start" style="font-size:42.6px;" fill="#000">Limonoids+Spm</text>
<text x="1731.0" y="1226.6" text-anchor="start" style="font-size:42.4px;" fill="#000">Limonoids</text>
<text x="568.9" y="254.0" text-anchor="middle" style="font-size:41.0px;" fill="#000" letter-spacing="1.3">***</text>
<text x="480.8" y="324.0" text-anchor="middle" style="font-size:41.0px;" fill="#000" letter-spacing="1.3">**</text>
<text x="587.6" y="562.1" text-anchor="middle" style="font-size:41.0px;" fill="#000" letter-spacing="1.3">**</text>
<text x="629.4" y="722.7" text-anchor="middle" style="font-size:41.0px;" fill="#000" letter-spacing="1.3">**</text>
<text x="596.6" y="905.1" text-anchor="middle" style="font-size:41.0px;" fill="#000" letter-spacing="1.3">*</text>
<text x="489.8" y="1031.7" text-anchor="middle" style="font-size:41.0px;" fill="#000" letter-spacing="1.3">**</text>
<text x="631.6" y="208.0" text-anchor="middle" style="font-size:41.0px;" fill="#000" letter-spacing="1.3">*</text>
<text x="704.4" y="287.8" text-anchor="middle" style="font-size:41.0px;" fill="#000" letter-spacing="1.3">***</text>
<text x="693.6" y="365.0" text-anchor="middle" style="font-size:41.0px;" fill="#000" letter-spacing="1.3">*</text>
<text x="703.1" y="485.0" text-anchor="middle" style="font-size:41.0px;" fill="#000" letter-spacing="1.3">**</text>
<text x="704.2" y="911.0" text-anchor="middle" style="font-size:41.0px;" fill="#000" letter-spacing="1.3">***</text>
<text x="700.6" y="1136.7" text-anchor="middle" style="font-size:41.0px;" fill="#000" letter-spacing="1.3">*</text>
<text x="1619.4" y="174.4" text-anchor="middle" style="font-size:41.0px;" fill="#000" letter-spacing="1.3">*</text>
<text x="1542.2" y="205.8" text-anchor="middle" style="font-size:41.0px;" fill="#000" letter-spacing="1.3">***</text>
<text x="1624.2" y="416.8" text-anchor="middle" style="font-size:41.0px;" fill="#000" letter-spacing="1.3">*</text>
<text x="1535.1" y="471.6" text-anchor="middle" style="font-size:41.0px;" fill="#000" letter-spacing="1.3">**</text>
<text x="1401.2" y="586.3" text-anchor="middle" style="font-size:41.0px;" fill="#000" letter-spacing="1.3">*</text>
<text x="1623.0" y="697.8" text-anchor="middle" style="font-size:41.0px;" fill="#000" letter-spacing="1.3">**</text>
<text x="1540.2" y="925.5" text-anchor="middle" style="font-size:41.0px;" fill="#000" letter-spacing="1.3">***</text>
<text x="1774.2" y="149.0" text-anchor="middle" style="font-size:41.0px;" fill="#000" letter-spacing="1.3">**</text>
<text x="1771.2" y="262.5" text-anchor="middle" style="font-size:41.0px;" fill="#000" letter-spacing="1.3">***</text>
<text x="1768.7" y="589.9" text-anchor="middle" style="font-size:41.0px;" fill="#000" letter-spacing="1.3">**</text>
<text x="1770.7" y="887.6" text-anchor="middle" style="font-size:41.0px;" fill="#000" letter-spacing="1.3">**</text>
</g>
</svg>
</div>
</body>
</html>
